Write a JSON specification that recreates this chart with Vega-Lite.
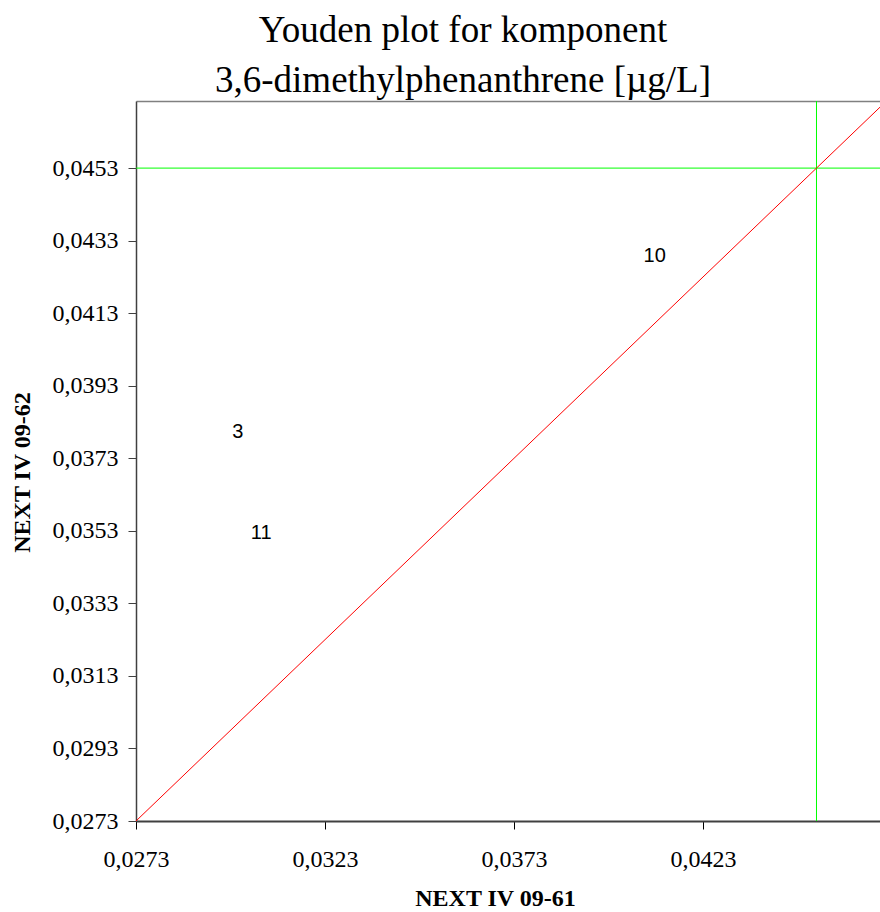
{
  "$schema": "https://vega.github.io/schema/vega-lite/v6.json",
  "width": 744,
  "height": 720,
  "autosize": "none",
  "padding": {"left": 136, "top": 101, "right": 0, "bottom": 91},
  "background": "white",
  "config": {
    "view": {"stroke": null},
    "font": "Liberation Serif"
  },
  "title": {
    "text": ["Youden plot for komponent", "3,6-dimethylphenanthrene [µg/L]"],
    "font": "Liberation Serif",
    "fontSize": 37,
    "fontWeight": "normal",
    "lineHeight": 50,
    "color": "black",
    "anchor": "middle",
    "dx": -45,
    "offset": 1
  },
  "datasets": {
    "labs": [
      {"lab": "3", "s61": 0.02999, "s62": 0.03803},
      {"lab": "10", "s61": 0.04102, "s62": 0.04289},
      {"lab": "11", "s61": 0.03061, "s62": 0.03523}
    ],
    "diagonal": [
      {"v": 0.0273},
      {"v": 0.0472}
    ],
    "median": [
      {"m61": 0.0453, "m62": 0.0453}
    ]
  },
  "resolve": {"axis": {"x": "independent"}},
  "layer": [
    {
      "data": {"name": "median"},
      "mark": {"type": "rule", "color": "#00ff00", "strokeWidth": 1},
      "encoding": {
        "x": {"field": "m61", "type": "quantitative", "scale": {"domain": [0.0273, 0.04698], "nice": false, "zero": false}, "axis": null}
      }
    },
    {
      "data": {"name": "median"},
      "mark": {"type": "rule", "color": "#00ff00", "strokeWidth": 1},
      "encoding": {
        "y": {"field": "m62", "type": "quantitative", "scale": {"domain": [0.0273, 0.04715], "nice": false, "zero": false}}
      }
    },
    {
      "data": {"name": "diagonal"},
      "mark": {"type": "line", "color": "#ff0000", "strokeWidth": 1, "clip": true},
      "encoding": {
        "x": {
          "field": "v", "type": "quantitative",
          "axis": {"orient": "top", "labels": false, "ticks": false, "title": null, "grid": false, "domainColor": "#808080", "domainWidth": 1.5}
        },
        "y": {"field": "v", "type": "quantitative"}
      }
    },
    {
      "data": {"name": "labs"},
      "mark": {"type": "text", "font": "Liberation Sans", "fontSize": 20, "color": "black", "align": "center", "baseline": "middle"},
      "encoding": {
        "x": {
          "field": "s61", "type": "quantitative",
          "axis": {
            "orient": "bottom",
            "values": [0.0273, 0.0323, 0.0373, 0.0423],
            "labelExpr": "replace(format(datum.value, '.4f'), '.', ',')",
            "grid": false,
            "labelFont": "Liberation Serif",
            "labelFontSize": 24,
            "labelColor": "black",
            "labelPadding": 18,
            "labelFlush": false,
            "tickColor": "black",
            "tickSize": 8,
            "domainColor": "#404040",
            "domainWidth": 2,
            "title": "NEXT IV 09-61",
            "titleFont": "Liberation Serif",
            "titleFontSize": 24,
            "titleFontWeight": "bold",
            "titleColor": "black",
            "titleBaseline": "alphabetic",
            "titleX": 359,
            "titleY": 84
          }
        },
        "y": {
          "field": "s62", "type": "quantitative",
          "axis": {
            "values": [0.0273, 0.0293, 0.0313, 0.0333, 0.0353, 0.0373, 0.0393, 0.0413, 0.0433, 0.0453],
            "labelExpr": "replace(format(datum.value, '.4f'), '.', ',')",
            "grid": false,
            "labelFont": "Liberation Serif",
            "labelFontSize": 24,
            "labelColor": "black",
            "labelPadding": 10,
            "labelFlush": false,
            "tickColor": "#404040",
            "tickSize": 8,
            "domainColor": "#404040",
            "domainWidth": 1.5,
            "title": "NEXT IV 09-62",
            "titleFont": "Liberation Serif",
            "titleFontSize": 24,
            "titleFontWeight": "bold",
            "titleColor": "black",
            "titleBaseline": "alphabetic",
            "titleX": -107,
            "titleY": 371
          }
        },
        "text": {"field": "lab", "type": "nominal"}
      }
    }
  ]
}
